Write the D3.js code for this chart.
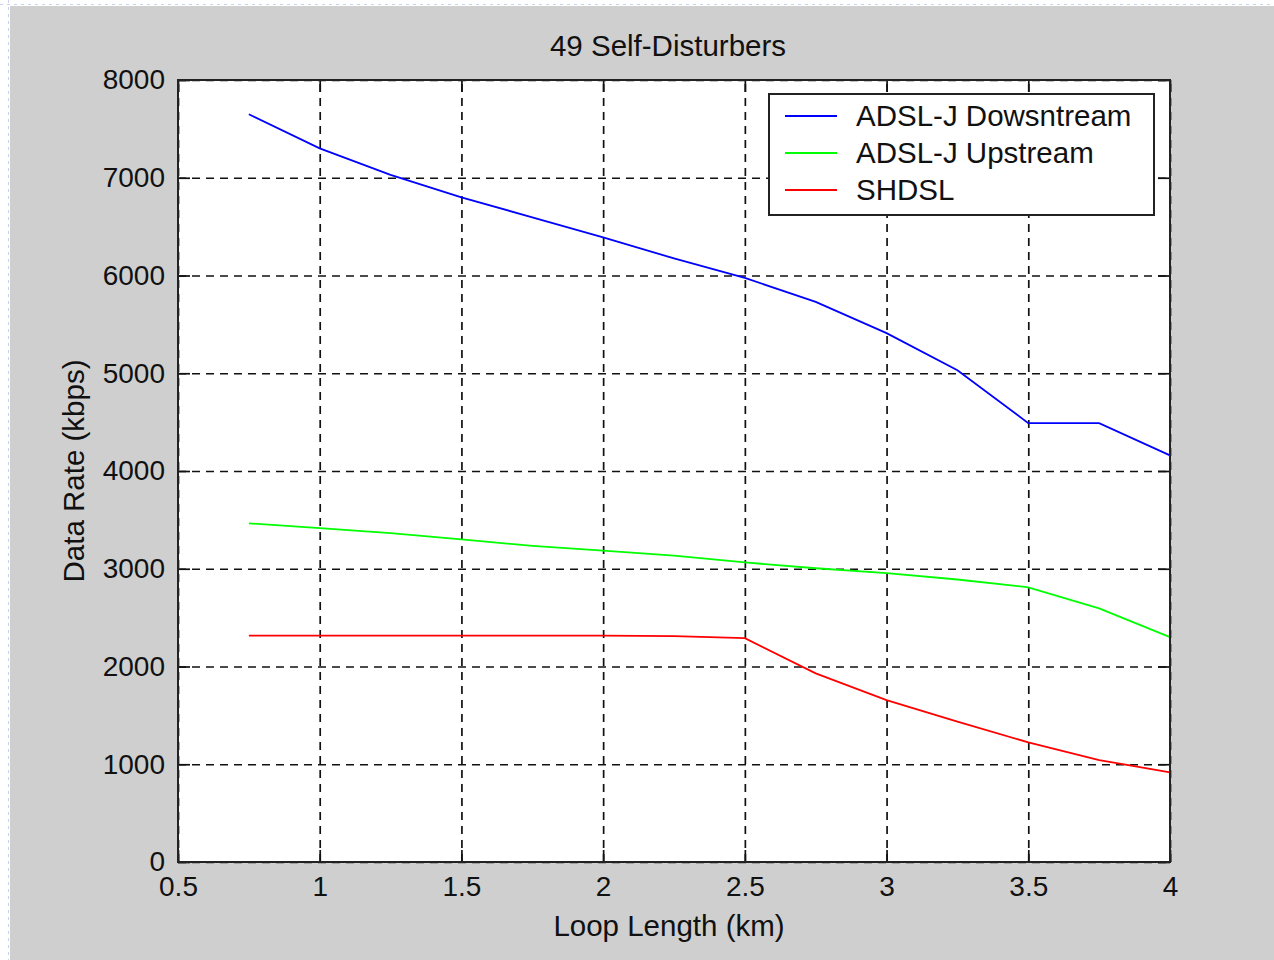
<!DOCTYPE html>
<html>
<head>
<meta charset="utf-8">
<script src="https://cdn.jsdelivr.net/npm/d3@7"></script>
<style>
  html, body { margin: 0; padding: 0; background: #fff; }
  svg { display: block; }
  text { font-family: "Liberation Sans", Arial, sans-serif; fill: #111; }
</style>
</head>
<body>
<svg id="chart"></svg>
<script>
// chart values
const loopLengths = [0.75, 1, 1.25, 1.5, 1.75, 2, 2.25, 2.5, 2.75, 3, 3.25, 3.5, 3.75, 4];
const adslDown = [7650, 7300, 7030, 6800, 6595, 6390, 6175, 5975, 5730, 5410, 5030, 4490, 4490, 4160];
const adslUp = [3465, 3415, 3365, 3300, 3235, 3185, 3135, 3065, 3005, 2955, 2890, 2810, 2595, 2300];
const shdsl = [2315, 2315, 2315, 2315, 2315, 2315, 2310, 2290, 1930, 1657, 1435, 1224, 1043, 917];
const seriesNames = ['ADSL-J Dowsntream', 'ADSL-J Upstream', 'SHDSL'];
const seriesColors = ['#0000ff', '#00ff00', '#ff0000'];
const xTicks = [0.5, 1, 1.5, 2, 2.5, 3, 3.5, 4];
const yTicks = [0, 1000, 2000, 3000, 4000, 5000, 6000, 7000, 8000];

const width = 1274;
const height = 960;
const plot = { left: 178, right: 1170, top: 80, bottom: 862 };
const labelFont = '29.5px';

const svg = d3.select('#chart')
  .attr('width', width)
  .attr('height', height);

// figure background (grey window with faint slide guides)
svg.append('rect').attr('width', width).attr('height', height).attr('fill', '#fff');
svg.append('rect')
  .attr('x', 10).attr('y', 6)
  .attr('width', width - 10).attr('height', height - 6)
  .attr('fill', '#cfcfcf');
svg.append('line')
  .attr('x1', 0).attr('x2', width).attr('y1', 4.5).attr('y2', 4.5)
  .attr('stroke', '#c8d2f2').attr('stroke-dasharray', '3,4');
svg.append('line')
  .attr('x1', 8.5).attr('x2', 8.5).attr('y1', 0).attr('y2', height)
  .attr('stroke', '#c8d2f2').attr('stroke-dasharray', '3,4');

const x = d3.scaleLinear().domain([0.5, 4]).range([plot.left, plot.right]);
const y = d3.scaleLinear().domain([0, 8000]).range([plot.bottom, plot.top]);

const plotW = plot.right - plot.left;
const plotH = plot.bottom - plot.top;

// white axes area
svg.append('rect')
  .attr('x', plot.left).attr('y', plot.top)
  .attr('width', plotW).attr('height', plotH)
  .attr('fill', '#fff');

// dashed grid
const gridX = svg.append('g')
  .attr('transform', `translate(0,${plot.bottom})`)
  .call(d3.axisBottom(x).tickValues(xTicks).tickSize(-plotH).tickFormat(''));
const gridY = svg.append('g')
  .attr('transform', `translate(${plot.left},0)`)
  .call(d3.axisLeft(y).tickValues(yTicks).tickSize(-plotW).tickFormat(''));
[gridX, gridY].forEach((g) => {
  g.select('.domain').remove();
  g.selectAll('line')
    .attr('stroke', '#111')
    .attr('stroke-width', 1.7)
    .attr('stroke-dasharray', '8,6');
});

// series lines
const series = [adslDown, adslUp, shdsl];
const line = d3.line()
  .x((d, i) => x(loopLengths[i]))
  .y((d) => y(d));
series.forEach((values, i) => {
  svg.append('path')
    .datum(values)
    .attr('fill', 'none')
    .attr('stroke', seriesColors[i])
    .attr('stroke-width', 1.8)
    .attr('d', line);
});

// inward ticks on all four sides, labels on bottom and left
const tickLen = 12;
const axes = [
  { axis: d3.axisBottom(x).tickValues(xTicks).tickFormat(d3.format('')), t: `translate(0,${plot.bottom})` },
  { axis: d3.axisTop(x).tickValues(xTicks).tickFormat(''), t: `translate(0,${plot.top})` },
  { axis: d3.axisLeft(y).tickValues(yTicks).tickFormat(d3.format('d')), t: `translate(${plot.left},0)` },
  { axis: d3.axisRight(y).tickValues(yTicks).tickFormat(''), t: `translate(${plot.right},0)` }
];
axes.forEach((a, i) => {
  const g = svg.append('g')
    .attr('transform', a.t)
    .call(a.axis.tickSizeInner(-tickLen).tickSizeOuter(0).tickPadding(tickLen + 14));
  g.select('.domain').remove();
  g.selectAll('line').attr('stroke', '#111').attr('stroke-width', 1.7);
  g.selectAll('text')
    .style('font-family', '"Liberation Sans", Arial, sans-serif')
    .style('font-size', '28px')
    .attr('fill', '#111');
  if (i === 0) {
    g.selectAll('text').attr('y', 14);
  }
  if (i === 2) {
    g.selectAll('text').attr('x', -13);
  }
});

// axes box
svg.append('rect')
  .attr('x', plot.left).attr('y', plot.top)
  .attr('width', plotW).attr('height', plotH)
  .attr('fill', 'none')
  .attr('stroke', '#222')
  .attr('stroke-width', 2);

// title and axis labels
svg.append('text')
  .attr('x', 668)
  .attr('y', 56)
  .attr('text-anchor', 'middle')
  .style('font-size', labelFont)
  .text('49 Self-Disturbers');
svg.append('text')
  .attr('x', 669)
  .attr('y', 936)
  .attr('text-anchor', 'middle')
  .style('font-size', labelFont)
  .text('Loop Length (km)');
svg.append('text')
  .attr('transform', `translate(84,${(plot.top + plot.bottom) / 2}) rotate(-90)`)
  .attr('text-anchor', 'middle')
  .style('font-size', labelFont)
  .text('Data Rate (kbps)');

// legend
const legend = svg.append('g').attr('transform', 'translate(769,94)');
legend.append('rect')
  .attr('width', 385).attr('height', 121)
  .attr('fill', '#fff')
  .attr('stroke', '#222')
  .attr('stroke-width', 2);
seriesNames.forEach((name, i) => {
  const rowY = 22 + i * 37;
  legend.append('line')
    .attr('x1', 16).attr('x2', 68)
    .attr('y1', rowY).attr('y2', rowY)
    .attr('stroke', seriesColors[i])
    .attr('stroke-width', 1.8);
  legend.append('text')
    .attr('x', 87)
    .attr('y', rowY + 10)
    .style('font-size', labelFont)
    .text(name);
});
</script>
</body>
</html>
